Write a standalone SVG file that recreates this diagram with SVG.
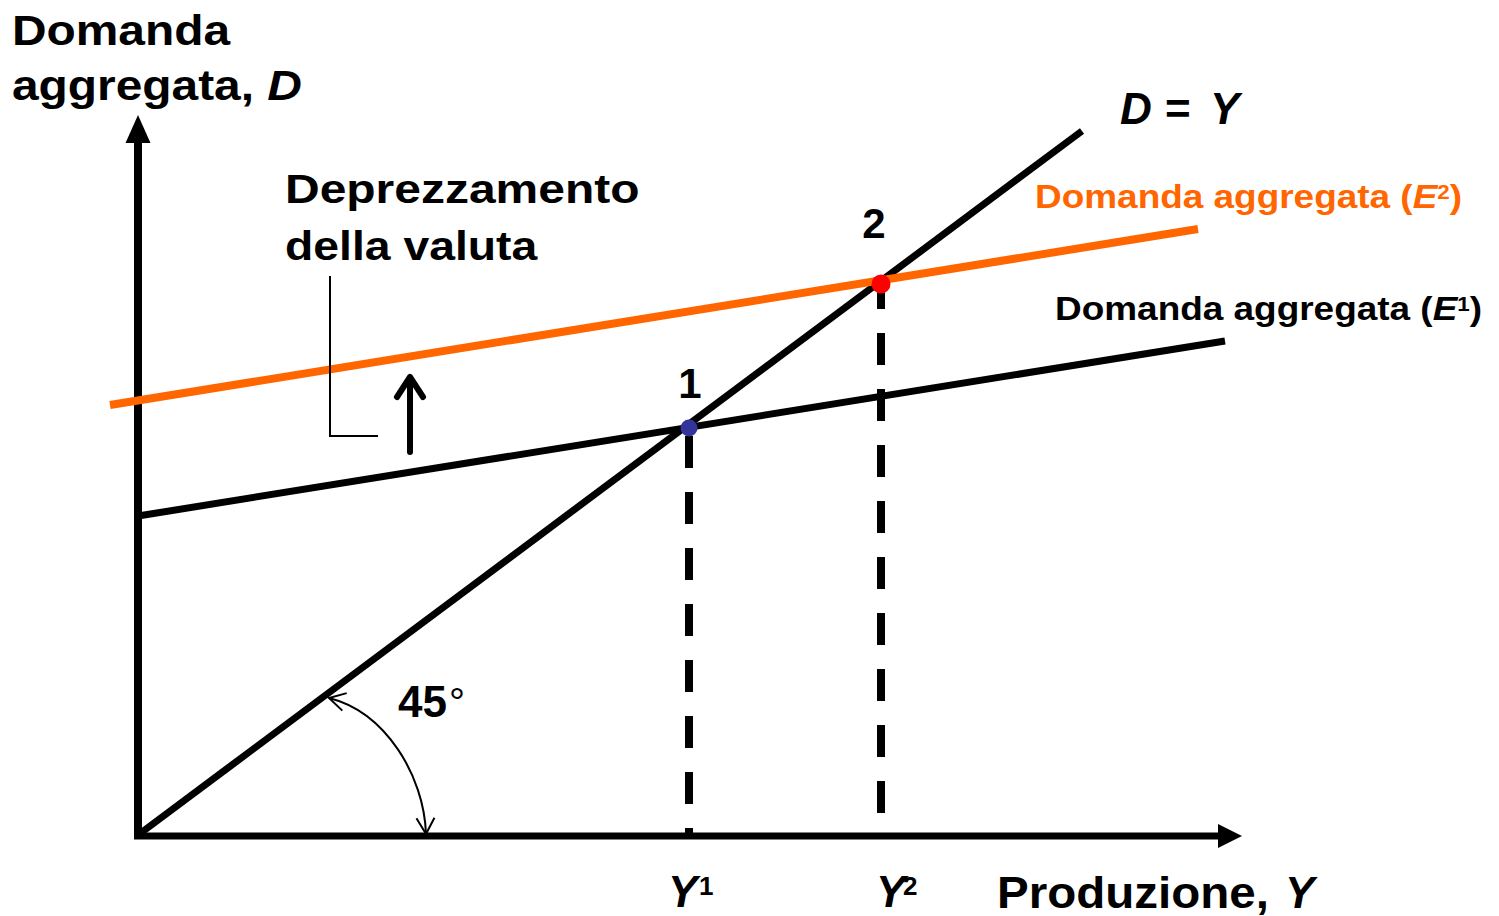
<svg xmlns="http://www.w3.org/2000/svg" width="1499" height="916" viewBox="0 0 1499 916">
<style>
text{font-family:"Liberation Sans",Arial,sans-serif;font-weight:bold;fill:#000}
.it{font-style:italic}
.or{fill:#FF6600}
.ln{fill:none;stroke:#000;stroke-width:7}
.lnor{fill:none;stroke:#FF6600;stroke-width:8}
.dash{fill:none;stroke:#000;stroke-width:8;stroke-dasharray:32 24}
.thin{fill:none;stroke:#000;stroke-width:2}
</style>
<defs>
<marker id="chev" markerUnits="userSpaceOnUse" viewBox="-20 -12 24 24" markerWidth="24" markerHeight="24" refX="0" refY="0" orient="auto-start-reverse">
<path d="M-16,-9 L0,0 L-16,9" fill="none" stroke="#000" stroke-width="2"/>
</marker>
</defs>
<rect width="1499" height="916" fill="#fff"/>

<g id="axes">
<line class="ln" x1="138" y1="836" x2="138" y2="140" style="stroke-width:8"/>
<polygon points="138,115 125.5,143 150.5,143" fill="#000"/>
<line class="ln" x1="134" y1="836" x2="1220" y2="836"/>
<polygon points="1242,836 1218,824 1218,848" fill="#000"/>
</g>

<g id="dashes">
<line class="dash" x1="881" y1="277" x2="881" y2="836"/>
<line class="dash" x1="689" y1="436" x2="689" y2="836"/>
</g>

<g id="line-DY">
<line class="ln" x1="138" y1="835" x2="1082" y2="131"/>
</g>
<g id="curve-E1">
<line class="ln" x1="138" y1="516" x2="1225" y2="341"/>
</g>
<g id="curve-E2">
<line class="lnor" x1="110" y1="405" x2="1198" y2="229"/>
</g>

<g id="point-1">
<circle cx="689" cy="428" r="8.5" fill="#333399"/>
<text x="690" y="398" font-size="42" text-anchor="middle">1</text>
</g>
<g id="point-2">
<circle cx="881" cy="284" r="9.5" fill="#FF0000"/>
<text x="874" y="238" font-size="42" text-anchor="middle">2</text>
</g>

<g id="connectors">
<polyline class="thin" points="330,276 330,436 378,436"/>
<path d="M410,452 L410,377 M397,397 L410,377 L423,397" fill="none" stroke="#000" stroke-width="6" stroke-linecap="round" stroke-linejoin="round"/>
<path class="thin" d="M329,698 C385,712 424,775 426,834" marker-start="url(#chev)" marker-end="url(#chev)"/>
</g>

<g id="label-yaxis">
<text transform="translate(12,45) scale(1.14,1)" font-size="42">Domanda</text>
<text transform="translate(12,100) scale(1.14,1)" font-size="42">aggregata, <tspan class="it">D</tspan></text>
</g>

<g id="label-DY">
<text x="1120" y="124" font-size="44" class="it">D</text>
<text x="1165" y="124" font-size="44">=</text>
<text x="1210" y="124" font-size="44" class="it">Y</text>
</g>

<g id="label-E2">
<text class="or" transform="translate(1035,208) scale(1.12,1)" font-size="33">Domanda aggregata (<tspan class="it">E</tspan><tspan font-size="20" dy="-9">2</tspan><tspan dy="9">)</tspan></text>
</g>
<g id="label-E1">
<text transform="translate(1055,320) scale(1.12,1)" font-size="33">Domanda aggregata (<tspan class="it">E</tspan><tspan font-size="20" dy="-9">1</tspan><tspan dy="9">)</tspan></text>
</g>

<g id="label-deprezzamento">
<text transform="translate(285,203) scale(1.17,1)" font-size="41">Deprezzamento</text>
<text transform="translate(285,260) scale(1.13,1)" font-size="41">della valuta</text>
</g>

<g id="label-45">
<text x="398" y="717" font-size="44">45</text>
<text x="449" y="716" font-size="40" style="font-weight:normal">°</text>
</g>

<g id="label-Y1">
<text x="668" y="907" font-size="44" class="it">Y</text>
<text x="699" y="895" font-size="26">1</text>
</g>
<g id="label-Y2">
<text x="876" y="907" font-size="44" class="it">Y</text>
<text x="903" y="895" font-size="26">2</text>
</g>

<g id="label-xaxis">
<text transform="translate(997,908) scale(1.08,1)" font-size="44">Produzione,</text>
<text x="1285" y="908" font-size="44" class="it">Y</text>
</g>
</svg>
